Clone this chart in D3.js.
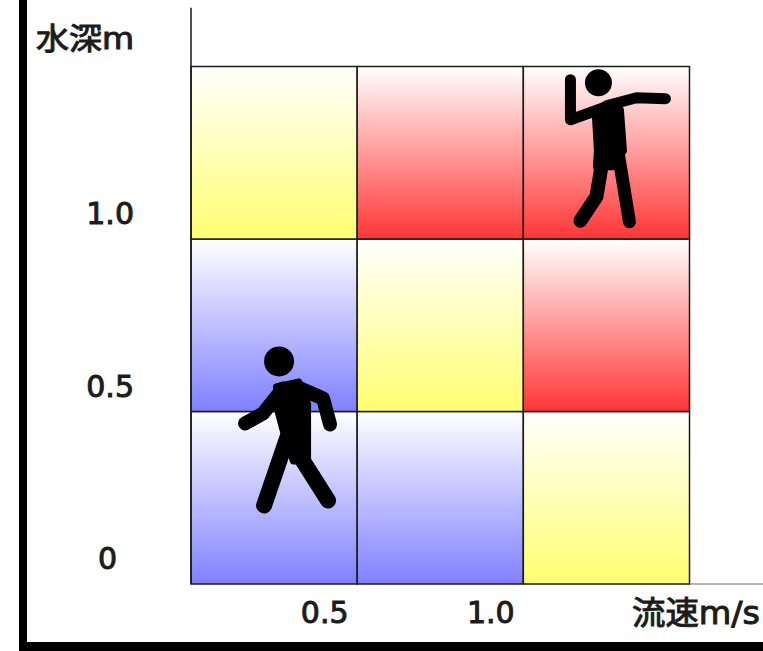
<!DOCTYPE html>
<html>
<head>
<meta charset="utf-8">
<script src="https://cdn.jsdelivr.net/npm/d3@7"></script>
<style>
    html, body { margin: 0; padding: 0; background: #fff; overflow: hidden; }
    text { font-family: "DejaVu Sans", "Noto Sans CJK JP", sans-serif; fill: #1c1c1c; stroke: #1c1c1c; stroke-width: 1px; }
</style>
</head>
<body>
<svg id="chart" width="763" height="651"></svg>
<script>
const speedEdges = [0, 0.5, 1.0, 1.5];
const depthEdges = [0, 0.5, 1.0, 1.5];
const speedTicks = [0.5, 1.0];
const depthTicks = [0, 0.5, 1.0];
// risk per cell, bottom row first
const riskRows = [
    ['low', 'low', 'mid'],
    ['low', 'mid', 'high'],
    ['mid', 'high', 'high']
];
const riskNames = ['low', 'mid', 'high'];
const riskColors = ['#8080ff', '#ffff70', '#ff3535'];
const depthLabel = '水深m';
const speedLabel = '流速m/s';

const svg = d3.select('#chart');

const x = d3.scaleLinear().domain([0, 1.5]).range([191, 689.5]);
const y = d3.scaleLinear().domain([0, 1.5]).range([584, 66.5]);

// gradients, white at the top of each cell
const defs = svg.append('defs');
riskNames.forEach((name, i) => {
    const grad = defs.append('linearGradient')
        .attr('id', 'grad-' + name)
        .attr('x1', 0).attr('y1', 0).attr('x2', 0).attr('y2', 1);
    grad.append('stop').attr('offset', '0%').attr('stop-color', '#ffffff');
    grad.append('stop').attr('offset', '100%').attr('stop-color', riskColors[i]);
});

// Cells
riskRows.forEach((row, r) => {
    svg.append('g').selectAll('rect')
        .data(row)
        .enter().append('rect')
        .attr('x', (d, c) => x(speedEdges[c]))
        .attr('y', y(depthEdges[r + 1]))
        .attr('width', (d, c) => x(speedEdges[c + 1]) - x(speedEdges[c]))
        .attr('height', y(depthEdges[r]) - y(depthEdges[r + 1]))
        .attr('fill', d => `url(#grad-${d})`)
        .attr('stroke', '#1a1a1a')
        .attr('stroke-width', 1.5);
});

// Axis lines run past the grid
svg.append('line')
    .attr('x1', x(0)).attr('x2', x(0))
    .attr('y1', y(1.67)).attr('y2', y(0))
    .attr('stroke', '#1a1a1a').attr('stroke-width', 1.5);
svg.append('line')
    .attr('x1', x(1.5)).attr('x2', x(1.75))
    .attr('y1', y(0)).attr('y2', y(0))
    .attr('stroke', '#666').attr('stroke-width', 1);

// Axes, labels sit in the middle of the gap beside each grid line
const xAxis = svg.append('g')
    .attr('transform', `translate(0,${y(0)})`)
    .call(d3.axisBottom(x).tickValues(speedTicks).tickSize(0).tickFormat(d3.format('.1f')));
xAxis.select('.domain').remove();
xAxis.selectAll('text')
    .attr('x', -33).attr('y', 28).attr('dy', '0.36em')
    .style('font-size', '30px').style('font-family', '"DejaVu Sans"');

const yAxis = svg.append('g')
    .attr('transform', 'translate(134,0)')
    .call(d3.axisLeft(y).tickValues(depthTicks).tickSize(0)
        .tickFormat(d => d === 0 ? '0' : d3.format('.1f')(d)));
yAxis.select('.domain').remove();
yAxis.selectAll('text')
    .attr('x', d => d === 0 ? -17 : 0)
    .attr('y', -26).attr('dy', '0.36em')
    .style('font-size', '30px').style('font-family', '"DejaVu Sans"');

svg.append('text')
    .attr('x', 36).attr('y', 38).attr('dy', '0.36em')
    .style('font-size', '30px')
    .attr('textLength', 98).attr('lengthAdjust', 'spacingAndGlyphs')
    .text(depthLabel);
svg.append('text')
    .attr('x', 632).attr('y', 612).attr('dy', '0.36em')
    .style('font-size', '32px')
    .attr('textLength', 128).attr('lengthAdjust', 'spacingAndGlyphs')
    .text(speedLabel);

// Walking figure, offsets from the head centre
function drawWalker(cx, cy) {
    const g = svg.append('g').attr('transform', `translate(${cx},${cy})`);
    g.append('circle').attr('r', 15).attr('fill', '#000');
    g.append('path')
        .attr('d', 'M-3,25 L20,20 L29,42 L29,100 L14,100 L3,67 L-2,48 Z')
        .attr('fill', '#000').attr('stroke', '#000').attr('stroke-width', 6).attr('stroke-linejoin', 'round');
    const limb = d3.line();
    [
        [[4, 27], [-16, 52], [-34, 62], 14],
        [[19, 26], [44, 37], [51, 63], 14],
        [[11, 68], [-15, 144], 16],
        [[23, 98], [49, 139], 16]
    ].forEach(seg => {
        g.append('path').attr('d', limb(seg.slice(0, -1)))
            .attr('fill', 'none').attr('stroke', '#000')
            .attr('stroke-width', seg[seg.length - 1])
            .attr('stroke-linecap', 'round').attr('stroke-linejoin', 'round');
    });
}

// Figure struggling in deep, fast water
function drawWader(cx, cy) {
    const g = svg.append('g').attr('transform', `translate(${cx},${cy})`);
    g.append('circle').attr('r', 13.5).attr('fill', '#000');
    g.append('path')
        .attr('d', 'M-3,34 L22,27 L25,68 L14,84 L-2,84 L-1,68 Z')
        .attr('fill', '#000').attr('stroke', '#000').attr('stroke-width', 7).attr('stroke-linejoin', 'round');
    const limb = d3.line();
    [
        [[-28, -3], [-28, 37], [8, 24], 11],
        [[8, 23], [38, 15], [67, 16], 11],
        [[19, 66], [31, 139], 13],
        [[4, 78], [-2, 114], [-18, 138], 14]
    ].forEach(seg => {
        g.append('path').attr('d', limb(seg.slice(0, -1)))
            .attr('fill', 'none').attr('stroke', '#000')
            .attr('stroke-width', seg[seg.length - 1])
            .attr('stroke-linecap', 'round').attr('stroke-linejoin', 'round');
    });
}

drawWalker(x(0.265), y(0.645));
drawWader(x(1.226), y(1.453));

// Picture frame, cropped on the right
svg.append('rect').attr('x', 19).attr('y', 0).attr('width', 8).attr('height', 651).attr('fill', '#000');
svg.append('rect').attr('x', 19).attr('y', 642).attr('width', 744).attr('height', 9).attr('fill', '#000');
</script>
</body>
</html>
